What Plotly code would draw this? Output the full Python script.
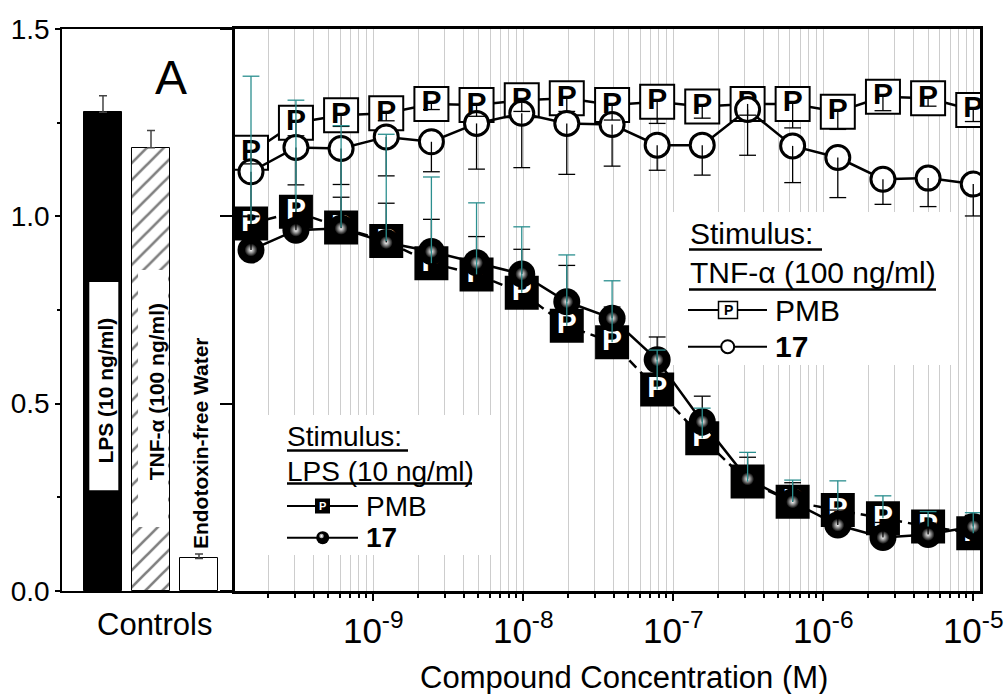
import plotly.graph_objects as go

W, H = 1005, 694
FONT = "Liberation Sans, Arial, Helvetica, sans-serif"
TEAL = "#2b8f8f"

# Compound concentrations (M): two-fold serial dilution from 10 uM
conc = [1.53e-10, 3.05e-10, 6.10e-10, 1.22e-9, 2.44e-9, 4.88e-9, 9.77e-9,
        1.95e-8, 3.91e-8, 7.81e-8, 1.56e-7, 3.13e-7, 6.25e-7, 1.25e-6,
        2.50e-6, 5.00e-6, 1.00e-5]

# TNF-alpha (100 ng/ml) stimulus
tnf_pmb = [1.170, 1.250, 1.270, 1.275, 1.300, 1.297, 1.310, 1.315, 1.297,
           1.306, 1.293, 1.300, 1.300, 1.279, 1.319, 1.315, 1.284]
tnf_pmb_err = [0.030, 0.035, 0.030, 0.020, 0.015, 0.030, 0.030, 0.035, 0.040,
               0.058, 0.031, 0.030, 0.064, 0.047, 0.037, 0.021, 0.031]
tnf_17 = [1.119, 1.184, 1.181, 1.212, 1.199, 1.248, 1.275, 1.248, 1.245,
          1.190, 1.190, 1.285, 1.188, 1.157, 1.099, 1.102, 1.086]
tnf_17_err = [0.120, 0.100, 0.096, 0.104, 0.080, 0.122, 0.145, 0.136, 0.111,
              0.067, 0.080, 0.122, 0.098, 0.107, 0.067, 0.076, 0.085]

# LPS (10 ng/ml) stimulus
lps_pmb = [0.981, 1.012, 0.970, 0.934, 0.875, 0.845, 0.796, 0.708, 0.664,
           0.538, 0.408, 0.292, 0.238, 0.216, 0.194, 0.172, 0.154]
lps_pmb_err = [0.393, 0.298, 0.272, 0.285, 0.230, 0.191, 0.176, 0.189, 0.164,
               0.105, 0.080, 0.078, 0.058, 0.078, 0.060, 0.040, 0.055]
lps_17 = [0.910, 0.963, 0.968, 0.930, 0.906, 0.876, 0.846, 0.772, 0.728,
          0.617, 0.452, 0.299, 0.238, 0.176, 0.143, 0.151, 0.172]
lps_17_err = [0.091, 0.089, 0.083, 0.105, 0.086, 0.070, 0.066, 0.097, 0.030,
              0.061, 0.068, 0.058, 0.051, 0.040, 0.040, 0.030, 0.030]

# Control wells
ctrl_labels = ["LPS (10 ng/ml)", "TNF-α (100 ng/ml)", "Endotoxin-free Water"]
ctrl_pos = [0, 1, 2]
ctrl_vals = [1.278, 1.183, 0.087]
ctrl_err = [0.044, 0.046, 0.012]
ctrl_fill = ["black", "white", "white"]
ctrl_hatch = ["", "/", ""]

# Axis ticks
y_ticks = [0.0, 0.5, 1.0, 1.5]
decades = [1e-9, 1e-8, 1e-7, 1e-6, 1e-5]
decade_text = ["10<sup>-9</sup>", "10<sup>-8</sup>", "10<sup>-7</sup>",
               "10<sup>-6</sup>", "10<sup>-5</sup>"]
minor_vals = [m * 10.0 ** k for k in range(-10, -4) for m in range(1, 10)
              if 1.2e-10 < m * 10.0 ** k <= 1.0e-5]


def px(x):
    return x / W


def py(y):
    return 1 - y / H


XL = [px(62), px(235)]
XR = [px(235), px(980)]
YD = [py(591), py(29)]
LOGRANGE = [-9.922, -4.955]

fig = go.Figure()

# ---- Controls panel -------------------------------------------------------
for pos, val, err, fill, hatch in zip(ctrl_pos, ctrl_vals, ctrl_err,
                                      ctrl_fill, ctrl_hatch):
    marker = dict(color=fill, line=dict(color="black", width=1))
    if hatch:
        marker["pattern"] = dict(shape=hatch, fgcolor="black", bgcolor="white",
                                 size=12, solidity=0.22, fillmode="overlay")
    fig.add_trace(go.Bar(
        x=[pos], y=[val], width=0.785, xaxis="x", yaxis="y", marker=marker,
        error_y=dict(type="data", symmetric=False, array=[err],
                     arrayminus=[0], color="#444", thickness=1.5, width=4),
    ))

# ---- Concentration-response panel ----------------------------------------
fig.add_trace(go.Scatter(
    x=conc, y=tnf_pmb, xaxis="x2", yaxis="y2", mode="lines+markers+text",
    text=["P"] * len(conc), textposition="middle center",
    textfont=dict(family=FONT, size=30, color="black", weight="bold"),
    line=dict(color="black", width=2.5),
    marker=dict(symbol="square", size=34, color="white",
                line=dict(color="black", width=2)),
))
fig.add_trace(go.Scatter(
    x=conc, y=tnf_17, xaxis="x2", yaxis="y2", mode="lines+markers",
    line=dict(color="black", width=2.5),
    marker=dict(symbol="circle", size=24, color="white",
                line=dict(color="black", width=3)),
))
fig.add_trace(go.Scatter(
    x=conc, y=lps_pmb, xaxis="x2", yaxis="y2", mode="lines+markers+text",
    text=["P"] * len(conc), textposition="middle center",
    textfont=dict(family=FONT, size=30, color="white", weight="bold"),
    line=dict(color="black", width=2.5, dash="10px,6px"),
    marker=dict(symbol="square", size=34, color="black",
                line=dict(color="black", width=0)),
))
fig.add_trace(go.Scatter(
    x=conc, y=lps_17, xaxis="x2", yaxis="y2", mode="lines+markers",
    line=dict(color="black", width=2.5),
    marker=dict(symbol="circle", size=27, color="black",
                line=dict(color="black", width=0)),
))
# glossy highlight on the filled spheres
fig.add_trace(go.Scatter(
    x=conc, y=lps_17, xaxis="x2", yaxis="y2", mode="markers",
    marker=dict(symbol="circle", size=13, color="black",
                gradient=dict(type="radial", color="white"),
                line=dict(width=0)),
))


def error_bars(xs, ys, errs, direction, color):
    """Whiskers drawn as stems plus cap markers, one direction only."""
    sx, sy, cx, cy = [], [], [], []
    for x, y, e in zip(xs, ys, errs):
        end = y + e if direction > 0 else y - e
        sx += [x, x, None]
        sy += [y, end, None]
        cx.append(x)
        cy.append(end)
    fig.add_trace(go.Scatter(x=sx, y=sy, xaxis="x2", yaxis="y2", mode="lines",
                             line=dict(color=color, width=1.3)))
    fig.add_trace(go.Scatter(x=cx, y=cy, xaxis="x2", yaxis="y2", mode="markers",
                             marker=dict(symbol="line-ew", size=12,
                                         line=dict(color=color, width=1.3))))


error_bars(conc, tnf_pmb, tnf_pmb_err, -1, "black")
error_bars(conc, tnf_17, tnf_17_err, -1, "black")
error_bars(conc, lps_17, lps_17_err, +1, "black")
error_bars(conc, lps_pmb, lps_pmb_err, +1, TEAL)

# empty trace so the decade-label axis is laid out
fig.add_trace(go.Scatter(x=[], y=[], xaxis="x3", yaxis="y2"))

# ---- Shapes and text -------------------------------------------------------
shapes = []
annotations = []


def note(text, x, y, size, xanchor="left", yanchor="middle", color="black",
         angle=0, xref="paper", yref="paper", bold=False):
    annotations.append(dict(
        text=text, x=x, y=y, xref=xref, yref=yref, showarrow=False,
        xanchor=xanchor, yanchor=yanchor, textangle=angle,
        font=dict(family=FONT, size=size, color=color,
                  weight="bold" if bold else "normal")))


def rect(x0, y0, x1, y1, fill, line_color=None, lw=0, xref="paper", yref="paper"):
    shapes.append(dict(type="rect", xref=xref, yref=yref, x0=x0, y0=y0,
                       x1=x1, y1=y1, fillcolor=fill, layer="above",
                       line=dict(color=line_color or fill, width=lw)))


def hline(x0, x1, y, lw=2.5):
    shapes.append(dict(type="line", xref="paper", yref="paper", x0=px(x0),
                       x1=px(x1), y0=py(y), y1=py(y), layer="above",
                       line=dict(color="black", width=lw)))


def circle(cx, cy, d, fill, line_color="black", lw=0):
    shapes.append(dict(type="circle", xref="paper", yref="paper",
                       x0=px(cx - d / 2), x1=px(cx + d / 2),
                       y0=py(cy + d / 2), y1=py(cy - d / 2),
                       fillcolor=fill, layer="above",
                       line=dict(color=line_color, width=lw)))


# white label panels inside the control bars
rect(ctrl_pos[0] - 0.285, 0.269, ctrl_pos[0] + 0.319, 0.825, "white",
     xref="x", yref="y")
rect(ctrl_pos[1] - 0.27, 0.171, ctrl_pos[1] + 0.354, 0.857, "white",
     xref="x", yref="y")
note(ctrl_labels[0], ctrl_pos[0] + 0.05, 0.536, 21, xanchor="center",
     angle=-90, xref="x", yref="y", bold=True)
note(ctrl_labels[1], ctrl_pos[1] + 0.11, 0.531, 21, xanchor="center",
     angle=-90, xref="x", yref="y", bold=True)
note(ctrl_labels[2], ctrl_pos[2] + 0.03, 0.396, 21, xanchor="center",
     angle=-90, xref="x", yref="y", bold=True)

note("A", px(171), py(77), 48, xanchor="center")
note("Controls", px(154.5), py(624), 31, xanchor="center")
note("Compound Concentration (M)", px(624), py(677), 31, xanchor="center")

# legend: TNF-alpha stimulus
rect(px(673), py(365), px(952), py(212), "white")
note("Stimulus: ", px(688), py(233), 30)
hline(689, 822, 249.5)
note("TNF-α (100 ng/ml)", px(688), py(272), 30)
hline(689, 936, 289.5)
hline(688, 767, 310, 2)
rect(px(718.5), py(318.5), px(737.5), py(301.5), "white", "black", 1.5)
note("P", px(728), py(310), 14, xanchor="center", bold=True)
note("PMB", px(773), py(310), 30)
hline(688, 767, 346.7, 2)
circle(727.7, 346.7, 13, "white", "black", 2)
note("17", px(773), py(346.7), 30, bold=True)

# legend: LPS stimulus
rect(px(262), py(555), px(500), py(415), "white")
note("Stimulus: ", px(285), py(436.7), 28)
hline(287, 408, 450.5)
note("LPS (10 ng/ml)", px(285), py(471), 28)
hline(287, 472, 483.5)
hline(287, 358, 506, 2)
rect(px(315), py(513.5), px(330), py(498.5), "black")
note("P", px(322.5), py(506), 11, xanchor="center", color="white", bold=True)
note("PMB", px(364), py(506), 28)
hline(287, 358, 537.7, 2)
circle(322.7, 537.7, 13, "black")
circle(321.5, 536.0, 4.5, "#b0b0b0")
circle(321.5, 536.0, 1.8, "white")
note("17", px(364), py(537.7), 28, bold=True)

fig.update_layout(
    width=W, height=H, template="none", showlegend=False,
    margin=dict(l=0, r=0, t=0, b=0, pad=0),
    paper_bgcolor="white", plot_bgcolor="white",
    font=dict(family=FONT, color="black"),
    barmode="overlay", bargap=0,
    xaxis=dict(domain=XL, range=[-0.854, 2.75], anchor="y", showline=True,
               linecolor="black", linewidth=1.5, mirror=True, ticks="",
               showticklabels=False, showgrid=False, zeroline=False,
               automargin=False),
    yaxis=dict(domain=YD, range=[0, 1.5], anchor="x", showline=True,
               linecolor="black", linewidth=1.5, ticks="outside", ticklen=5,
               tickwidth=1.5, tickcolor="black", tickmode="array",
               tickvals=y_ticks, ticktext=[f"{v:.1f}" for v in y_ticks],
               tickfont=dict(size=28), showgrid=False, zeroline=False,
               minor=dict(ticks="outside", ticklen=3, tickwidth=1.5,
                          tickcolor="black", tickvals=[0.25, 0.75, 1.25],
                          showgrid=False),
               automargin=False),
    xaxis2=dict(domain=XR, type="log", range=LOGRANGE, anchor="y2",
                showline=True, linecolor="black", linewidth=2.5, mirror=True,
                tickmode="array", tickvals=minor_vals, ticks="outside",
                ticklen=4, tickwidth=1.5, tickcolor="black",
                showticklabels=False, showgrid=True, gridcolor="#cdcdcd",
                gridwidth=1, zeroline=False, automargin=False),
    xaxis3=dict(overlaying="x2", anchor="y2", type="log", range=LOGRANGE,
                side="bottom", tickmode="array", tickvals=decades,
                ticktext=decade_text, ticks="outside", ticklen=9,
                tickwidth=1.5, tickcolor="black", tickfont=dict(size=35),
                showgrid=False, showline=False, zeroline=False,
                automargin=False),
    yaxis2=dict(domain=YD, range=[0, 1.5], anchor="x2", showline=True,
                linecolor="black", linewidth=2.5, mirror=True,
                ticks="outside", ticklen=12, tickwidth=1.5, tickcolor="black",
                tickmode="array", tickvals=y_ticks, showticklabels=False,
                showgrid=False, zeroline=False, automargin=False),
    shapes=shapes, annotations=annotations,
)

fig.write_html("out.html")
